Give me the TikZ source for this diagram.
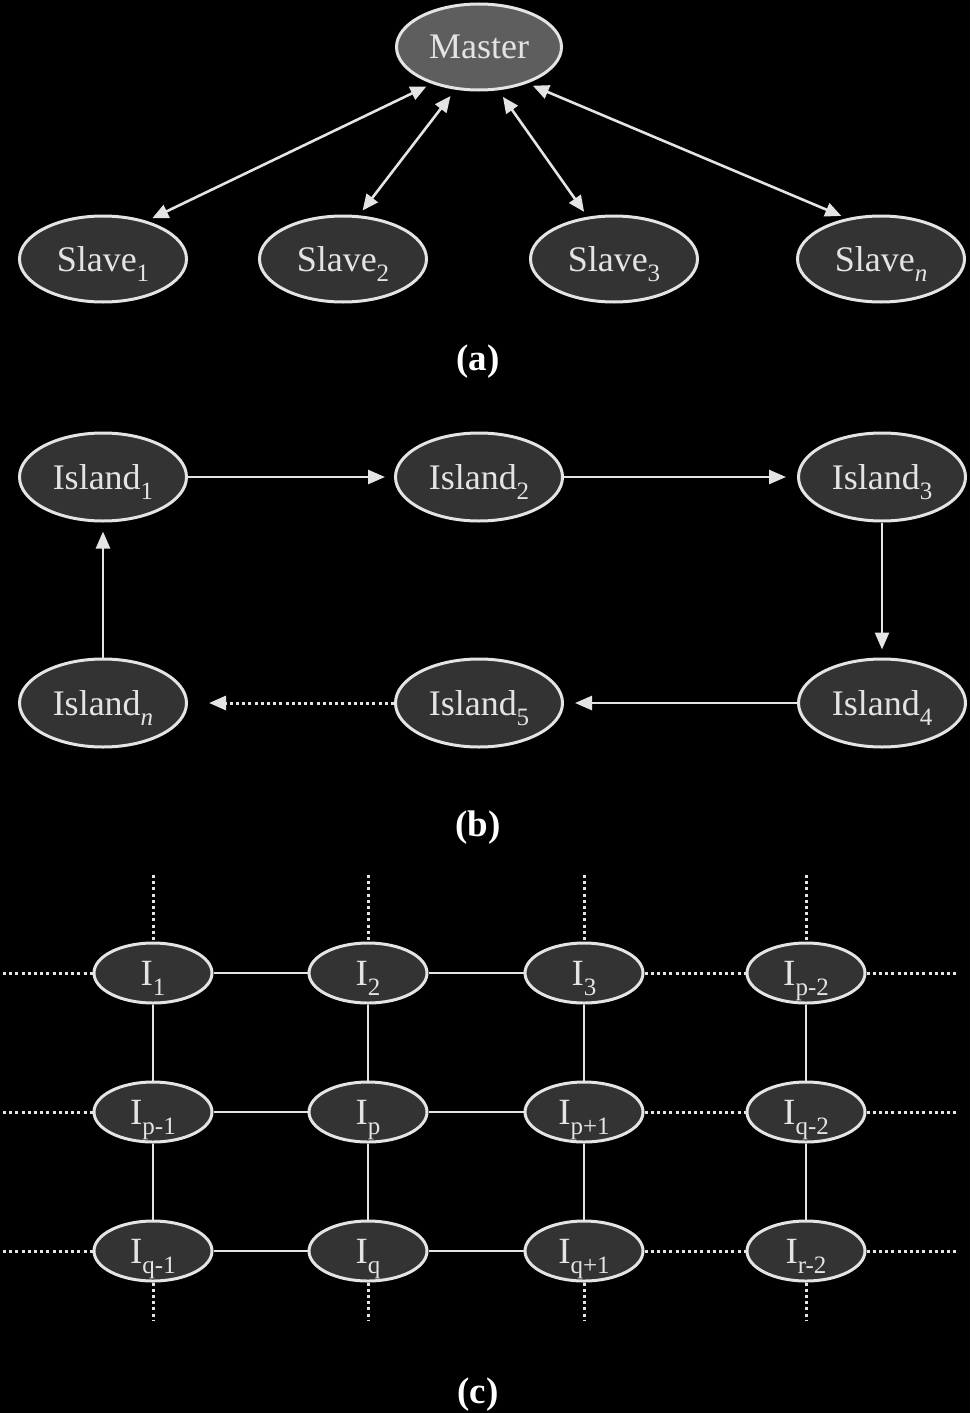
\documentclass[tikz,border=0pt]{standalone}
\usepackage{fontspec}
\setmainfont{Liberation Serif}
\usetikzlibrary{arrows.meta,shapes.geometric}
\definecolor{ln}{HTML}{E4E4E4}
\definecolor{nodefill}{HTML}{333333}
\definecolor{masterfill}{HTML}{5E5E5E}
\newcommand{\sbs}[1]{\raisebox{-10pt}[0pt][0pt]{\fontsize{25}{27}\selectfont #1}}
\begin{document}
\begin{tikzpicture}[x=1pt,y=-1pt,
  bignode/.style={ellipse, draw=ln, line width=3pt, fill=nodefill, text=ln, inner sep=0pt,
    minimum width=167pt, minimum height=86pt, font=\fontsize{36}{40}\selectfont},
  gridnode/.style={ellipse, draw=ln, line width=3pt, fill=nodefill, text=ln, inner sep=0pt,
    minimum width=118pt, minimum height=60pt, font=\fontsize{37}{40}\selectfont},
  conn/.style={draw=ln, line width=2.6pt},
  dotconn/.style={draw=ln, line width=3pt, dash pattern=on 3pt off 3.2pt},
  onetip/.style={-{Triangle[length=17pt,width=14pt]}},
  twotip/.style={{Triangle[length=16pt,width=14pt]}-{Triangle[length=16pt,width=14pt]}},
  caption/.style={text=white, anchor=base, font=\fontsize{37}{40}\bfseries}
]
\fill[black] (0,0) rectangle (970,1413);
\useasboundingbox (0,0) rectangle (970,1413);

% (a)
\node[bignode, fill=masterfill, minimum width=165pt] (master) at (479,47) {Master};
\node[bignode] (s1) at (103,259) {Slave\sbs{1}};
\node[bignode] (s2) at (343,259) {Slave\sbs{2}};
\node[bignode] (s3) at (614,259) {Slave\sbs{3}};
\node[bignode] (sn) at (881,259) {Slave\sbs{\itshape n}};
\draw[conn, twotip, shorten <=6pt, shorten >=6pt] (master.218.8) -- (s1.41.8);
\draw[conn, twotip, shorten <=8pt, shorten >=6pt] (master.241.6) -- (s2.70.9);
\draw[conn, twotip, shorten <=8pt, shorten >=6pt] (master.294.3) -- (s3.122.2);
\draw[conn, twotip, shorten <=6pt, shorten >=6pt] (master.323.9) -- (sn.130.8);
\node[caption] (capa) at (478,370) {(a)};

% (b)
\node[bignode, minimum height=88pt] (i1) at (103,477) {Island\sbs{1}};
\node[bignode, minimum height=88pt] (i2) at (479,477) {Island\sbs{2}};
\node[bignode, minimum height=88pt] (i3) at (882,477) {Island\sbs{3}};
\node[bignode, minimum height=88pt] (i4) at (882,703) {Island\sbs{4}};
\node[bignode, minimum height=88pt] (i5) at (479,703) {Island\sbs{5}};
\node[bignode, minimum height=88pt] (in) at (103,703) {Island\sbs{\itshape n}};
\draw[conn, onetip, shorten >=9pt] (i1.east) -- (i2.west);
\draw[conn, onetip, shorten >=11pt] (i2.east) -- (i3.west);
\draw[conn, onetip, shorten >=8pt] (i3.south) -- (i4.north);
\draw[conn, onetip, shorten >=11pt] (i4.west) -- (i5.east);
\draw[dotconn, onetip, shorten >=21pt] (i5.west) -- (in.east);
\draw[conn, onetip, shorten >=9pt] (in.north) -- (i1.south);
\node[caption] (capb) at (478,836) {(b)};

% (c)
\node[gridnode] (g11) at (153,973) {I\sbs{1}};
\node[gridnode] (g12) at (368,973) {I\sbs{2}};
\node[gridnode] (g13) at (584,973) {I\sbs{3}};
\node[gridnode] (g14) at (806,973) {I\sbs{p-2}};
\node[gridnode] (g21) at (153,1112) {I\sbs{p-1}};
\node[gridnode] (g22) at (368,1112) {I\sbs{p}};
\node[gridnode] (g23) at (584,1112) {I\sbs{p+1}};
\node[gridnode] (g24) at (806,1112) {I\sbs{q-2}};
\node[gridnode] (g31) at (153,1251) {I\sbs{q-1}};
\node[gridnode] (g32) at (368,1251) {I\sbs{q}};
\node[gridnode] (g33) at (584,1251) {I\sbs{q+1}};
\node[gridnode] (g34) at (806,1251) {I\sbs{r-2}};

\foreach \r in {1,2,3}{
  \draw[conn] (g\r1.east) -- (g\r2.west);
  \draw[conn] (g\r2.east) -- (g\r3.west);
  \draw[dotconn] (g\r3.east) -- (g\r4.west);
}
\foreach \c in {1,2,3,4}{
  \draw[conn] (g1\c.south) -- (g2\c.north);
  \draw[conn] (g2\c.south) -- (g3\c.north);
}
\coordinate (l1) at (3,973);
\coordinate (l2) at (3,1112);
\coordinate (l3) at (3,1251);
\coordinate (r1) at (958,973);
\coordinate (r2) at (958,1112);
\coordinate (r3) at (958,1251);
\foreach \r in {1,2,3}{
  \draw[dotconn] (l\r) -- (g\r1.west);
  \draw[dotconn] (g\r4.east) -- (r\r);
}
\coordinate (t1) at (153,875);
\coordinate (t2) at (368,875);
\coordinate (t3) at (584,875);
\coordinate (t4) at (806,875);
\coordinate (b1) at (153,1320);
\coordinate (b2) at (368,1320);
\coordinate (b3) at (584,1320);
\coordinate (b4) at (806,1320);
\foreach \c in {1,2,3,4}{
  \draw[dotconn] (t\c) -- (g1\c.north);
  \draw[dotconn] (g3\c.south) -- (b\c);
}
\node[caption] (capc) at (478,1403) {(c)};
\end{tikzpicture}
\end{document}
